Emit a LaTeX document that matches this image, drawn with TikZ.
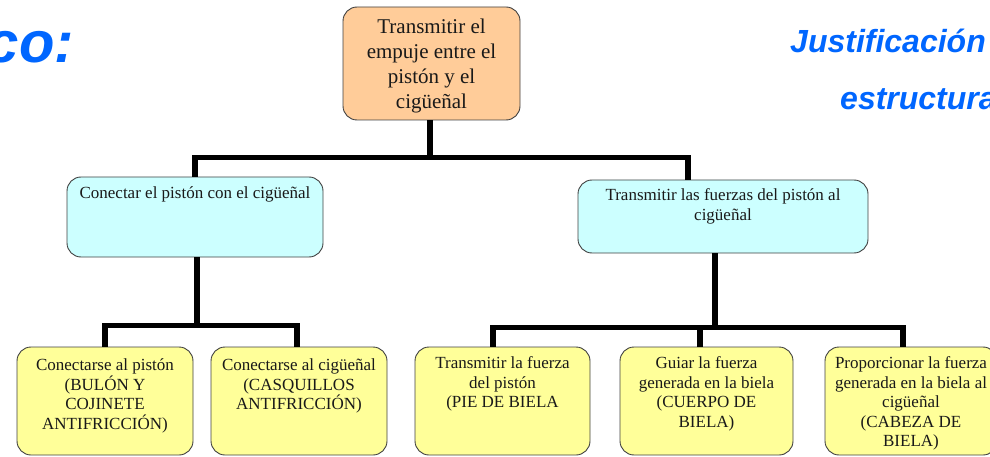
\documentclass[tikz,border=0pt]{standalone}
\usepackage{fontspec}
\setmainfont{Liberation Serif}
\newfontfamily\arialf{Liberation Sans}
\definecolor{peachfill}{HTML}{FFCC99}
\definecolor{cyanfill}{HTML}{CCFFFF}
\definecolor{yellowfill}{HTML}{FFFF99}
\definecolor{titleblue}{RGB}{0,102,255}
\begin{document}
\begin{tikzpicture}[x=1pt,y=-1pt,
  box/.style={draw=black!75, line width=0.9pt, rounded corners=14pt, inner sep=0pt},
  topbox/.style={box, fill=peachfill, minimum width=177pt, minimum height=113pt},
  midbox/.style={box, fill=cyanfill},
  lowbox/.style={box, fill=yellowfill, minimum height=108pt},
  lbl/.style={align=center, inner sep=0pt, text=black!90, font=\fontsize{17}{19.5}\selectfont, anchor=north},
  conn/.style={line width=5.5pt, line join=miter},
  ttl/.style={text=titleblue, font=\arialf\bfseries\itshape, inner sep=0pt}]
\useasboundingbox (0,0) rectangle (990,457);
\clip (0,0) rectangle (990,457);

% titles
\node[ttl, font=\arialf\bfseries\itshape\fontsize{58}{60}\selectfont, anchor=base east] (t1) at (74,63) {co:};
\node[ttl, font=\arialf\bfseries\itshape\fontsize{32}{34}\selectfont, anchor=base west] (t2) at (790,53) {Justificación};
\node[ttl, font=\arialf\bfseries\itshape\fontsize{32}{34}\selectfont, anchor=base west] (t3) at (840,110) {estructura};

% boxes
\node[topbox] (top) at (431.5,63.5) {};
\node[midbox, minimum width=256pt, minimum height=80pt] (ml) at (195,217) {};
\node[midbox, minimum width=290pt, minimum height=73pt] (mr) at (723,216.5) {};
\node[lowbox, minimum width=176pt] (b1) at (105,401) {};
\node[lowbox, minimum width=176pt] (b2) at (299,401) {};
\node[lowbox, minimum width=175pt] (b3) at (502.5,401) {};
\node[lowbox, minimum width=173pt] (b4) at (706.5,401) {};
\node[lowbox, minimum width=172pt] (b5) at (911,401) {};

% texts
\node[align=center, inner sep=0pt, text=black!90, font=\fontsize{21}{25}\selectfont] (toptxt) at ([yshift=-2pt]top.center) {Transmitir el\\empuje entre el\\pistón y el\\cigüeñal};
\node[lbl] (mltxt) at ([yshift=-10pt]ml.north) {Conectar el pistón con el cigüeñal};
\node[lbl] (mrtxt) at ([yshift=-9pt]mr.north) {Transmitir las fuerzas del pistón al\\cigüeñal};
\node[lbl] (b1txt) at ([yshift=-12pt]b1.north) {Conectarse al pistón\\(BULÓN Y\\COJINETE\\ANTIFRICCIÓN)};
\node[lbl] (b2txt) at ([yshift=-12pt]b2.north) {Conectarse al cigüeñal\\(CASQUILLOS\\ANTIFRICCIÓN)};
\node[lbl] (b3txt) at ([yshift=-10pt]b3.north) {Transmitir la fuerza\\del pistón\\(PIE DE BIELA};
\node[lbl] (b4txt) at ([yshift=-10pt]b4.north) {Guiar la fuerza\\generada en la biela\\(CUERPO DE\\BIELA)};
\node[lbl] (b5txt) at ([yshift=-10pt]b5.north) {Proporcionar la fuerza\\generada en la biela al\\cigüeñal\\(CABEZA DE\\BIELA)};

% connectors
\coordinate (j1) at ([xshift=-1.5pt,yshift=-37pt]top.south);
\draw[conn] ([xshift=-1.5pt]top.south) -- (j1);
\draw[conn] (ml.north) |- (j1) -| ([xshift=-35pt]mr.north);

\coordinate (j2) at ([xshift=2pt,yshift=-68pt]ml.south);
\draw[conn] ([xshift=2pt]ml.south) -- (j2);
\draw[conn] (b1.north) |- (j2) -| ([xshift=-2pt]b2.north);

\coordinate (j3) at ([xshift=-8pt,yshift=-74pt]mr.south);
\draw[conn] ([xshift=-8pt]mr.south) -- (j3);
\draw[conn] ([xshift=-9.5pt]b3.north) |- (j3) -| ([xshift=-6.5pt]b4.north);
\draw[conn] (j3) -| ([xshift=-8pt]b5.north);
\end{tikzpicture}
\end{document}
